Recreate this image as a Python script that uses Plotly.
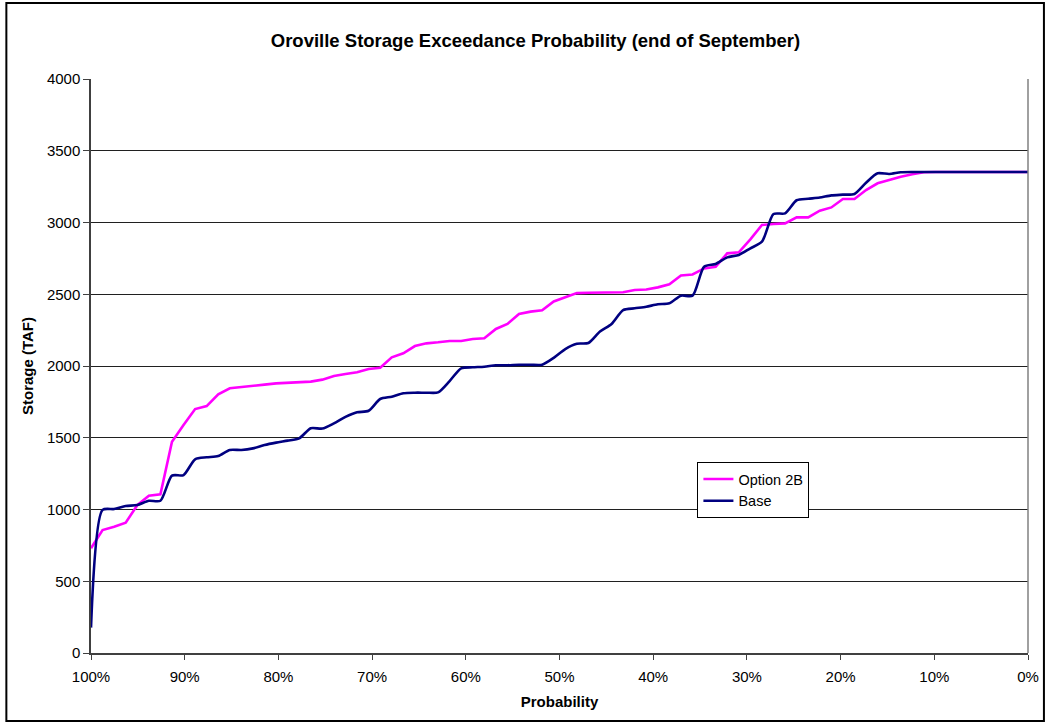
import plotly.graph_objects as go

# End-of-September Oroville storage (TAF), sorted from lowest to highest
option_2b = [
    730, 857, 880, 908, 1030, 1096, 1106, 1472, 1589, 1700,
    1721, 1803, 1845, 1852, 1861, 1870, 1879, 1884, 1886, 1891,
    1905, 1930, 1944, 1956, 1979, 1988, 2060, 2089, 2139, 2158,
    2165, 2174, 2174, 2188, 2193, 2258, 2293, 2362, 2379, 2388,
    2450, 2477, 2508, 2510, 2510, 2510, 2514, 2530, 2533, 2548,
    2569, 2631, 2638, 2680, 2692, 2785, 2792, 2883, 2983, 2990,
    2994, 3036, 3036, 3082, 3105, 3164, 3164, 3226, 3273, 3296,
    3319, 3336, 3350, 3352, 3352, 3352, 3352, 3352, 3352, 3352,
    3352, 3352,
]
base = [
    177, 997, 1003, 1024, 1031, 1061, 1061, 1236, 1240, 1350,
    1364, 1373, 1415, 1415, 1426, 1449, 1466, 1480, 1496, 1566,
    1564, 1600, 1645, 1677, 1688, 1770, 1786, 1810, 1814, 1814,
    1816, 1895, 1984, 1991, 1995, 2005, 2005, 2009, 2009, 2009,
    2057, 2118, 2155, 2160, 2240, 2293, 2390, 2402, 2413, 2430,
    2437, 2490, 2490, 2692, 2711, 2757, 2774, 2820, 2866, 3059,
    3064, 3155, 3165, 3174, 3189, 3194, 3199, 3277, 3343, 3338,
    3350, 3352, 3352, 3352, 3352, 3352, 3352, 3352, 3352, 3352,
    3352, 3352,
]

# Exceedance probability for each ranked year, 100% down to 0%
n = len(base)
probability = [100 - 100 * i / (n - 1) for i in range(n)]

x_ticks = list(range(0, 101, 10))
x_tick_text = [f"{t}%" for t in x_ticks]
y_ticks = list(range(0, 4001, 500))

FONT = "Liberation Sans, Arial, sans-serif"

# plot area in pixels
W, H = 1051, 723
L, R, T, B = 91, 19, 79, 70
PW, PH = W - L - R, H - T - B

fig = go.Figure()
fig.add_trace(go.Scatter(
    x=probability, y=option_2b, name="Option 2B", mode="lines",
    line=dict(color="#FF00FF", width=2.6),
))
fig.add_trace(go.Scatter(
    x=probability, y=base, name="Base", mode="lines",
    line=dict(color="#000080", width=2.6, shape="spline", smoothing=0.7),
))

fig.update_layout(
    width=W, height=H,
    margin=dict(l=L, r=R, t=T, b=B),
    paper_bgcolor="white", plot_bgcolor="white",
    font=dict(family=FONT, size=15, color="black"),
    title=dict(
        text="<b>Oroville Storage Exceedance Probability (end of September)</b>",
        x=(271 + 800) / 2 / W, xanchor="center", y=1 - 41 / H, yanchor="middle",
        font=dict(family=FONT, size=18.5, color="black"),
    ),
    xaxis=dict(
        range=[100, 0], tickvals=x_ticks, ticktext=x_tick_text,
        showgrid=False, zeroline=False,
        showline=True, linecolor="#404040", linewidth=1.5,
        ticks="outside", ticklen=5, tickcolor="#404040",
        tickfont=dict(size=15), ticklabelstandoff=4,
        title=dict(text="<b>Probability</b>", font=dict(size=15), standoff=13),
    ),
    yaxis=dict(
        range=[0, 4000], tickvals=y_ticks,
        showgrid=True, gridcolor="#202020", gridwidth=1,
        zeroline=False,
        showline=True, linecolor="#404040", linewidth=1.5,
        ticks="outside", ticklen=6, tickcolor="#404040",
        tickfont=dict(size=15),
        title=dict(text="<b>Storage (TAF)</b>", font=dict(size=15), standoff=10),
    ),
    legend=dict(
        x=(700 - L) / PW, y=(H - B - 462) / PH, xanchor="left", yanchor="top",
        bgcolor="white", bordercolor="black", borderwidth=1,
        font=dict(size=14.5), tracegroupgap=0, itemwidth=30,
    ),
    showlegend=True,
)

# Plot-area frame on the right side and the outer chart border
fig.add_shape(type="line", xref="paper", yref="paper", x0=1, x1=1, y0=0, y1=1,
              line=dict(color="#808080", width=1.5))
fig.add_shape(type="rect", xref="paper", yref="paper",
              x0=(6 - L) / PW, x1=(1048 - L) / PW,
              y0=-(721 - (H - B)) / PH, y1=1 + (T - 3) / PH,
              line=dict(color="black", width=2))

fig.write_html("out.html")
